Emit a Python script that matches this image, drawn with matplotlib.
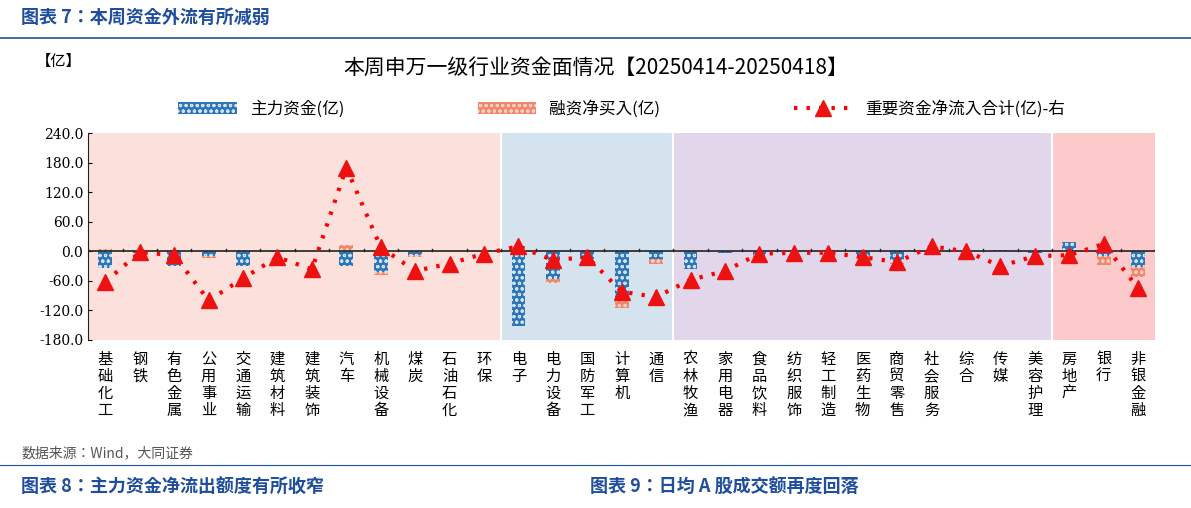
import matplotlib
matplotlib.use("Agg")
import matplotlib.pyplot as plt
from matplotlib import font_manager
import numpy as np

cjk = [f.name for f in font_manager.fontManager.ttflist if 'CJK' in f.name]
fam = ['Noto Sans CJK SC'] if 'Noto Sans CJK SC' in cjk else (cjk[:1] or ['DejaVu Sans'])
plt.rcParams['font.family'] = fam + ['DejaVu Sans']
plt.rcParams['hatch.linewidth'] = 0.8

industries = ['基础化工', '钢铁', '有色金属', '公用事业', '交通运输', '建筑材料', '建筑装饰', '汽车',
              '机械设备', '煤炭', '石油石化', '环保', '电子', '电力设备', '国防军工', '计算机', '通信',
              '农林牧渔', '家用电器', '食品饮料', '纺织服饰', '轻工制造', '医药生物', '商贸零售',
              '社会服务', '综合', '传媒', '美容护理', '房地产', '银行', '非银金融']
main_flow = [-35, -3, -30, -10, -30, -1, 0, -30, -42, -8, 0, 0, -152, -57, -15, -94, -16,
             -37, -3, -8, 0, 0, -10, -20, 5, 0, 2, -3, 18, -10, -32]
margin_buy = [5, 0, 2, -3, 2, 0, 0, 12, -6, -3, 0, 0, 10, -7, 2, -22, -10,
              0, 0, -10, 0, 0, -3, -5, -8, 0, 0, 0, 0, -18, -20]
total = [-62, -2, -8, -100, -55, -12, -37, 170, 8, -40, -25, -5, 10, -18, -12, -82, -93,
         -58, -40, -5, -3, -3, -12, -22, 10, 0, -30, -10, -8, 15, -75]
# sector groups: (start, end, colour)
groups = [(0, 11, '#fce0dc'), (12, 16, '#d5e3ee'), (17, 27, '#e2d6eb'), (28, 30, '#fccaca')]

main_flow = np.array(main_flow, float)
margin_buy = np.array(margin_buy, float)
x = np.arange(len(industries))

fig = plt.figure(figsize=(11.91, 5.08), dpi=100)
ax = fig.add_axes([0.074, 0.331, 0.896, 0.407])

for s, e, c in groups:
    ax.axvspan(s - 0.5, e + 0.5, color=c, zorder=0, lw=0)
for s, e, c in groups[1:]:
    ax.axvline(s - 0.5, color='white', lw=1.5, zorder=0.5)

# stacked like Excel: positives up, negatives down
g_base = np.where(np.sign(margin_buy) == np.sign(main_flow), main_flow, 0)
b1 = ax.bar(x, main_flow, 0.4, color='#2e75b6', edgecolor='#cfe3f5', hatch='ooo', lw=0, zorder=2,
            label='主力资金(亿)')
b2 = ax.bar(x, margin_buy, 0.4, bottom=g_base, color='#f0866a', edgecolor='#fbd0c4', hatch='ooo', lw=0,
            zorder=2, label='融资净买入(亿)')
l1, = ax.plot(x, total, color='#ff0000', ls=(0, (0.8, 2.2)), lw=3, marker='^', ms=11,
              markeredgecolor='#ee1111', markerfacecolor='#ee1111', zorder=3,
              label='重要资金净流入合计(亿)-右')

ax.axhline(0, color='#222222', lw=1.2, zorder=2.5)
ax.set_xlim(-0.5, len(x) - 0.5)
ax.set_ylim(-180, 240)
ax.set_yticks(np.arange(-180, 241, 60))
ax.set_yticklabels([f'{v:.1f}' for v in np.arange(-180, 241, 60)], fontsize=10, family='DejaVu Serif')
ax.set_xticks(x)
ax.set_xticklabels(['\n'.join(n) for n in industries], fontsize=11, linespacing=1.0, va='top')
ax.tick_params(axis='x', length=0, pad=8)
ax.tick_params(axis='y', length=3, direction='in')
for sp in ['top', 'right', 'bottom']:
    ax.spines[sp].set_visible(False)
ax.spines['left'].set_color('#222222')
for k in range(len(x) + 1):
    ax.plot([k - 0.5, k - 0.5], [0, 4], color='#222222', lw=1, zorder=2.5)

ax.legend([b1, b2, l1], [b1.get_label(), b2.get_label(), l1.get_label()],
          loc='lower center', bbox_to_anchor=(0.5, 1.0), ncol=3, frameon=False, fontsize=12,
          handlelength=3.5, columnspacing=8)

fig.text(0.5, 0.855, '本周申万一级行业资金面情况【20250414-20250418】', ha='center', fontsize=15)
fig.text(0.03, 0.87, '【亿】', fontsize=11)
fig.text(0.018, 0.955, '图表 7：本周资金外流有所减弱', fontsize=13, color='#1f4e9c', weight='bold')
fig.add_artist(plt.Line2D([0, 1], [0.925, 0.925], color='#1f4e9c', lw=1.2))
fig.text(0.018, 0.1, '数据来源：Wind，大同证券', fontsize=10, color='#555555', style='italic')
fig.add_artist(plt.Line2D([0, 1], [0.085, 0.085], color='#1f4e9c', lw=0.8))
fig.text(0.018, 0.03, '图表 8：主力资金净流出额度有所收窄', fontsize=13, color='#1f4e9c', weight='bold')
fig.text(0.495, 0.03, '图表 9：日均 A 股成交额再度回落', fontsize=13, color='#1f4e9c', weight='bold')

fig.savefig('out.png', dpi=100)
